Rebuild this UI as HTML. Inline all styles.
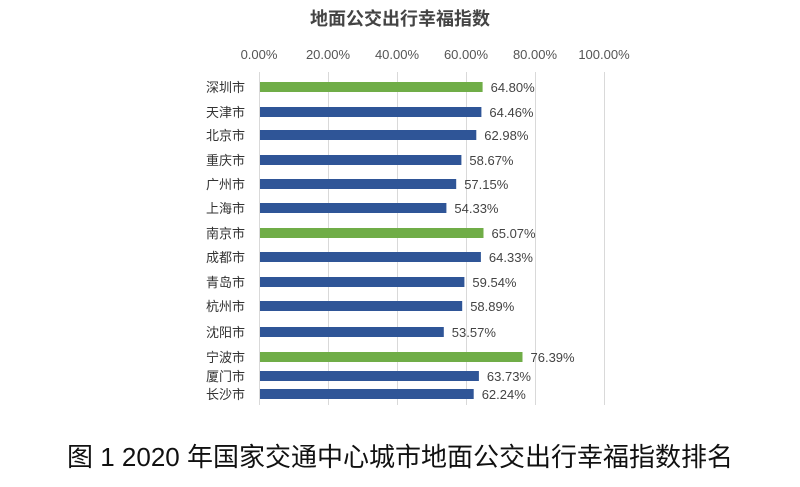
<!DOCTYPE html>
<html><head><meta charset="utf-8"><style>
body{margin:0;background:#fff;}
svg text{font-family:"Liberation Sans","Noto Sans CJK SC",sans-serif;}
</style></head><body>
<svg width="800" height="482" viewBox="0 0 800 482" xmlns="http://www.w3.org/2000/svg">
<rect width="800" height="482" fill="#fff"/>
<text x="400" y="25" text-anchor="middle" font-size="18" font-weight="bold" fill="#444">地面公交出行幸福指数</text>
<g font-size="13" fill="#555" text-anchor="middle">
<text x="259" y="59">0.00%</text><text x="328" y="59">20.00%</text><text x="397" y="59">40.00%</text>
<text x="466" y="59">60.00%</text><text x="535" y="59">80.00%</text><text x="604" y="59">100.00%</text>
</g>
<g stroke="#d9d9d9" stroke-width="1">
<line x1="259.5" y1="72" x2="259.5" y2="405"/><line x1="328.5" y1="72" x2="328.5" y2="405"/>
<line x1="397.5" y1="72" x2="397.5" y2="405"/><line x1="466.5" y1="72" x2="466.5" y2="405"/>
<line x1="535.5" y1="72" x2="535.5" y2="405"/><line x1="604.5" y1="72" x2="604.5" y2="405"/>
</g>
<g>
<rect x="260" y="82" width="222.6" height="10" fill="#70ad47"/>
<rect x="260" y="107" width="221.4" height="10" fill="#2f5597"/>
<rect x="260" y="130" width="216.3" height="10" fill="#2f5597"/>
<rect x="260" y="155" width="201.4" height="10" fill="#2f5597"/>
<rect x="260" y="179" width="196.2" height="10" fill="#2f5597"/>
<rect x="260" y="203" width="186.4" height="10" fill="#2f5597"/>
<rect x="260" y="228" width="223.5" height="10" fill="#70ad47"/>
<rect x="260" y="252" width="220.9" height="10" fill="#2f5597"/>
<rect x="260" y="277" width="204.4" height="10" fill="#2f5597"/>
<rect x="260" y="301" width="202.2" height="10" fill="#2f5597"/>
<rect x="260" y="327" width="183.8" height="10" fill="#2f5597"/>
<rect x="260" y="352" width="262.5" height="10" fill="#70ad47"/>
<rect x="260" y="371" width="218.9" height="10" fill="#2f5597"/>
<rect x="260" y="389" width="213.7" height="10" fill="#2f5597"/>
</g>
<g font-size="13" fill="#333" text-anchor="end">
<text x="245" y="92">深圳市</text><text x="245" y="117">天津市</text><text x="245" y="140">北京市</text>
<text x="245" y="165">重庆市</text><text x="245" y="189">广州市</text><text x="245" y="213">上海市</text>
<text x="245" y="238">南京市</text><text x="245" y="262">成都市</text><text x="245" y="287">青岛市</text>
<text x="245" y="311">杭州市</text><text x="245" y="337">沈阳市</text><text x="245" y="362">宁波市</text>
<text x="245" y="381">厦门市</text><text x="245" y="399">长沙市</text>
</g>
<g font-size="13" fill="#444">
<text x="490.6" y="92">64.80%</text><text x="489.4" y="117">64.46%</text><text x="484.3" y="140">62.98%</text>
<text x="469.4" y="165">58.67%</text><text x="464.2" y="189">57.15%</text><text x="454.4" y="213">54.33%</text>
<text x="491.5" y="238">65.07%</text><text x="488.9" y="262">64.33%</text><text x="472.4" y="287">59.54%</text>
<text x="470.2" y="311">58.89%</text><text x="451.8" y="337">53.57%</text><text x="530.5" y="362">76.39%</text>
<text x="486.9" y="381">63.73%</text><text x="481.7" y="399">62.24%</text>
</g>
<text x="400" y="466" text-anchor="middle" font-size="26" fill="#111">图 1 2020 年国家交通中心城市地面公交出行幸福指数排名</text>
</svg>
</body></html>
